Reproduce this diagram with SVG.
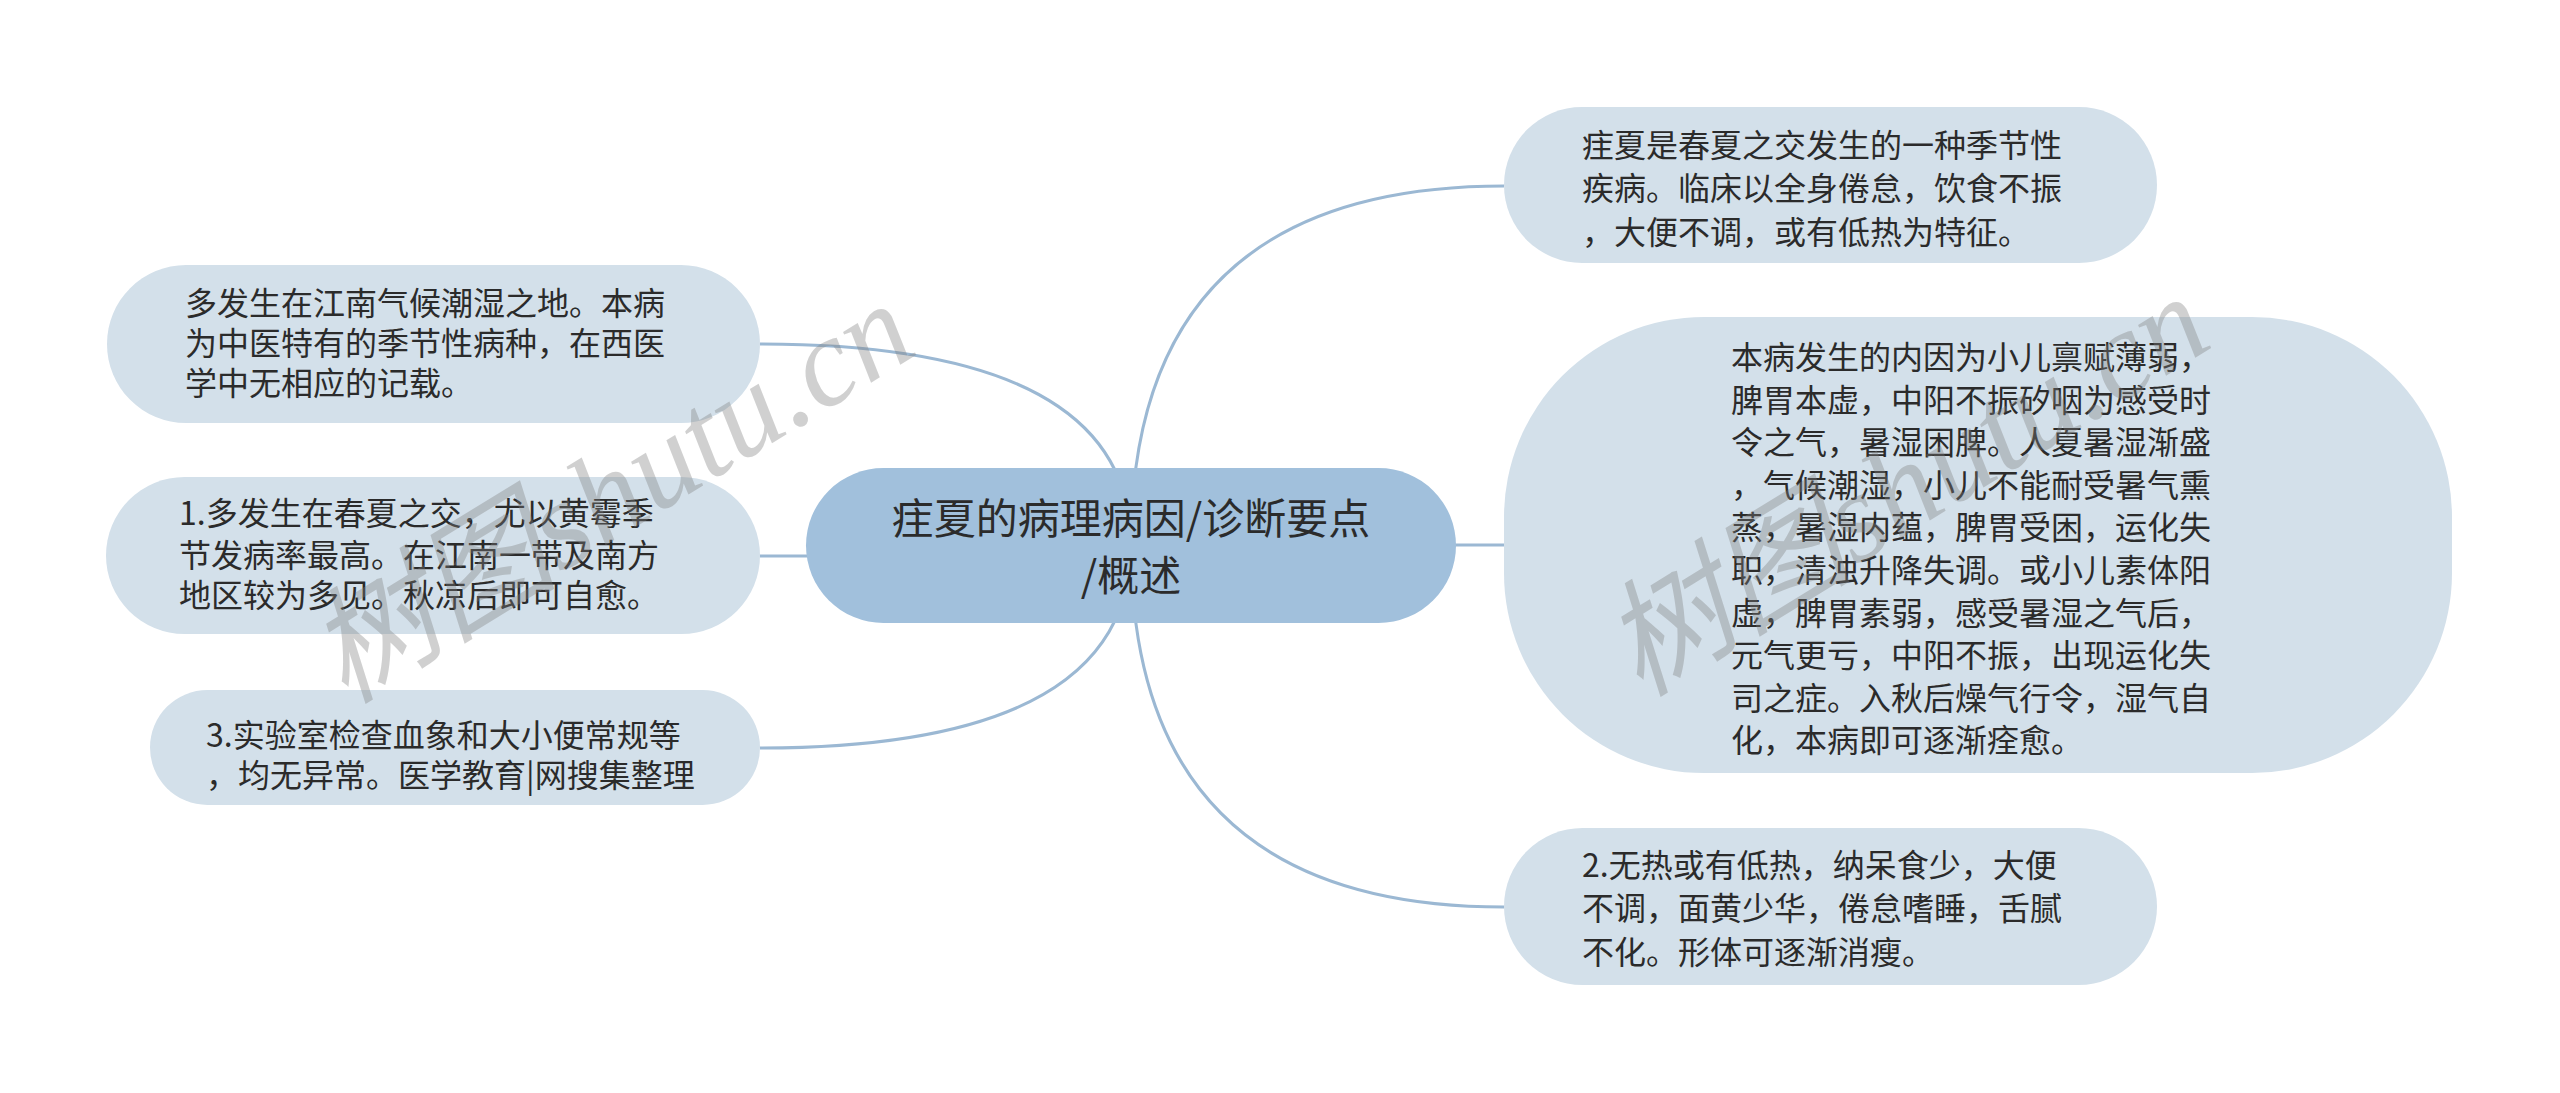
<svg xmlns="http://www.w3.org/2000/svg" width="2560" height="1093" viewBox="0 0 2560 1093">
  <style>
    .conn { fill: none; stroke: #9bb8d3; stroke-width: 3; }
    .child { fill: #d3e0ea; }
    .root { fill: #a1c0dc; }
    .t { font-family: "Noto Sans CJK SC", "Noto Sans", sans-serif; font-size: 32px; fill: #2b2b2b; }
    .rt { font-family: "Noto Sans CJK SC", "Noto Sans", sans-serif; font-size: 42px; fill: #2b2b2b; text-anchor: middle; }
    .wm { font-family: "Liberation Serif", "Noto Sans CJK SC", serif; font-style: italic; font-size: 126px; fill: #808080; opacity: 0.36; }
  </style>
  <rect width="2560" height="1093" fill="#ffffff"/>
  <g id="connectors">
    <path class="conn" d="M1131 545 Q1131 344 760 344"/>
    <path class="conn" d="M1131 545 Q1131 556 760 556"/>
    <path class="conn" d="M1131 545 Q1131 748 760 748"/>
    <path class="conn" d="M1131 545 Q1131 186 1504 186"/>
    <path class="conn" d="M1131 545 L1504 545"/>
    <path class="conn" d="M1131 545 Q1131 907 1504 907"/>
  </g>
  <g id="root">
    <rect class="root" x="806" y="468" width="650" height="155" rx="77.5"/>
    <text class="rt" x="1131" y="534">疰夏的病理病因/诊断要点</text>
    <text class="rt" x="1131" y="591">/概述</text>
  </g>
  <g id="left1">
    <rect class="child" x="107" y="265" width="653" height="158" rx="79"/>
    <text class="t" x="185" y="315">多发生在江南气候潮湿之地。本病</text>
    <text class="t" x="185" y="355">为中医特有的季节性病种，在西医</text>
    <text class="t" x="185" y="395">学中无相应的记载。</text>
  </g>
  <g id="left2">
    <rect class="child" x="106" y="477" width="654" height="157" rx="78.5"/>
    <text class="t" x="179" y="525">1.多发生在春夏之交，尤以黄霉季</text>
    <text class="t" x="179" y="567">节发病率最高。在江南一带及南方</text>
    <text class="t" x="179" y="607">地区较为多见。秋凉后即可自愈。</text>
  </g>
  <g id="left3">
    <rect class="child" x="150" y="690" width="610" height="115" rx="57.5"/>
    <text class="t" x="206" y="747">3.实验室检查血象和大小便常规等</text>
    <text class="t" x="206" y="787">，均无异常。医学教育|网搜集整理</text>
  </g>
  <g id="right1">
    <rect class="child" x="1504" y="107" width="653" height="156" rx="78"/>
    <text class="t" x="1582" y="157">疰夏是春夏之交发生的一种季节性</text>
    <text class="t" x="1582" y="200">疾病。临床以全身倦怠，饮食不振</text>
    <text class="t" x="1582" y="244">，大便不调，或有低热为特征。</text>
  </g>
  <g id="right2">
    <rect class="child" x="1504" y="317" width="948" height="456" rx="200"/>
    <text class="t" x="1731" y="369">本病发生的内因为小儿禀赋薄弱，</text>
    <text class="t" x="1731" y="412">脾胃本虚，中阳不振矽咽为感受时</text>
    <text class="t" x="1731" y="454">令之气，暑湿困脾。人夏暑湿渐盛</text>
    <text class="t" x="1731" y="497">，气候潮湿，小儿不能耐受暑气熏</text>
    <text class="t" x="1731" y="539">蒸，暑湿内蕴，脾胃受困，运化失</text>
    <text class="t" x="1731" y="582">职，清浊升降失调。或小儿素体阳</text>
    <text class="t" x="1731" y="625">虚，脾胃素弱，感受暑湿之气后，</text>
    <text class="t" x="1731" y="667">元气更亏，中阳不振，出现运化失</text>
    <text class="t" x="1731" y="710">司之症。入秋后燥气行令，湿气自</text>
    <text class="t" x="1731" y="752">化，本病即可逐渐痊愈。</text>
  </g>
  <g id="right3">
    <rect class="child" x="1504" y="828" width="653" height="157" rx="78.5"/>
    <text class="t" x="1582" y="877">2.无热或有低热，纳呆食少，大便</text>
    <text class="t" x="1582" y="920">不调，面黄少华，倦怠嗜睡，舌腻</text>
    <text class="t" x="1582" y="964">不化。形体可逐渐消瘦。</text>
  </g>
  <g id="watermarks">
    <text class="wm" transform="translate(345 705) rotate(-31.5)">树图shutu.cn</text>
    <text class="wm" transform="translate(1640 698) rotate(-31.5)">树图shutu.cn</text>
  </g>
</svg>
